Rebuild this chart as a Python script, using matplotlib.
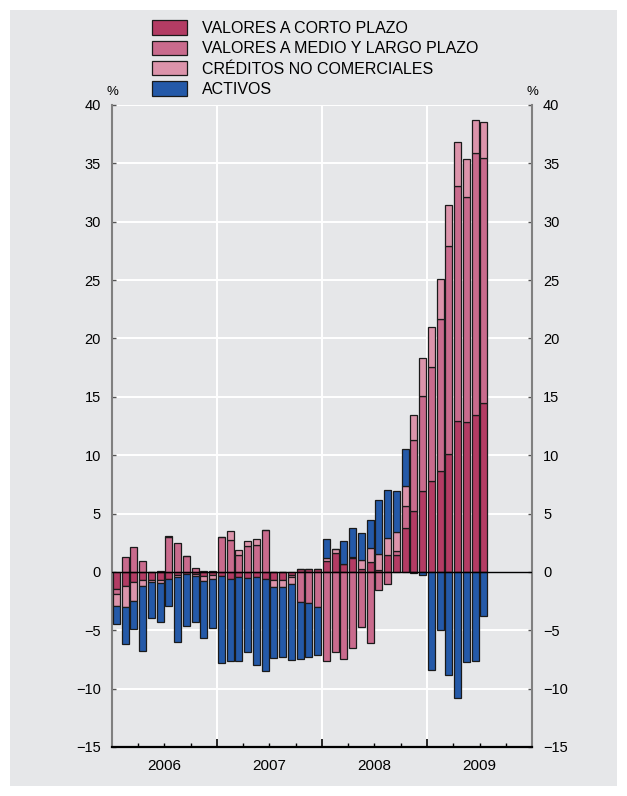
import numpy as np
import matplotlib.pyplot as plt

plt.rcParams['font.family'] = ['Liberation Sans', 'DejaVu Sans']

# Monthly contributions (pp), Jan 2006 - Jul 2009
valores_cp = [-1.48, -1.25, -0.88, -0.68, -0.68, -0.68, -0.60, -0.28, -0.20, -0.20,
              -0.34, -0.26, -0.31, -0.60, -0.48, -0.54, -0.48, -0.63, -0.68, -0.68,
              -0.30, 0.23, 0.26, 0.23, 0.94, 1.60, 0.65, 1.17, 0.23, 0.83,
              0.17, 1.45, 1.45, 3.73, 5.20, 6.92, 7.75, 8.63, 10.14, 12.93,
              12.88, 13.42, 14.50]
valores_mlp = [-0.43, 1.31, 2.10, 0.97, 0.00, 0.10, 2.96, 2.50, 1.40, 0.37,
               0.10, 0.10, 3.00, 2.73, 1.42, 2.22, 2.30, 3.59, 0.00, 0.00,
               -0.15, -2.56, -2.68, -3.00, -7.60, -6.87, -7.46, -6.55, -4.76, -6.10,
               -1.54, -1.08, 0.34, 1.91, 6.10, 8.12, 9.80, 13.05, 17.75, 20.15,
               19.26, 22.45, 20.94]
creditos = [-1.03, -1.77, -1.60, -0.57, -0.20, -0.28, 0.15, -0.17, 0.00, -0.17,
            -0.40, -0.34, 0.00, 0.74, 0.46, 0.46, 0.48, 0.00, -0.63, -0.65,
            -0.60, 0.00, 0.00, 0.00, 0.23, 0.34, 0.00, 0.14, 0.80, 1.25,
            1.34, 1.42, 1.65, 1.74, 2.10, 3.31, 3.42, 3.42, 3.53, 3.76,
            3.22, 2.85, 3.14]
activos = [-1.54, -3.13, -2.42, -5.50, -3.08, -3.30, -2.30, -5.56, -4.40, -3.93,
           -4.93, -4.20, -7.46, -7.04, -7.15, -6.30, -7.50, -7.86, -6.07, -6.00,
           -6.50, -4.90, -4.60, -4.13, 1.65, 0.00, 2.02, 2.48, 2.28, 2.36,
           4.62, 4.13, 3.48, 3.19, -0.10, -0.28, -8.43, -4.96, -8.80, -10.80,
           -7.72, -7.60, -3.76]

labels = ['VALORES A CORTO PLAZO', 'VALORES A MEDIO Y LARGO PLAZO',
          'CRÉDITOS NO COMERCIALES', 'ACTIVOS']
colors = ['#b33c64', '#c96b8d', '#dc94ab', '#2459a8']
years = ['2006', '2007', '2008', '2009']

bg = '#e6e7e9'
fig = plt.figure(figsize=(6.27, 7.96), dpi=100, facecolor='white')
fig.patches.append(plt.Rectangle((0.016, 0.012), 0.968, 0.976, transform=fig.transFigure,
                                 facecolor=bg, edgecolor='none', zorder=-10))
ax = fig.add_axes([0.1786, 0.0616, 0.6699, 0.8065])
ax.set_facecolor(bg)

x = np.arange(len(valores_cp))
pos_bottom = np.zeros(len(x))
neg_bottom = np.zeros(len(x))
for vals, col, lab in zip([valores_cp, valores_mlp, creditos, activos], colors, labels):
    v = np.array(vals)
    bottom = np.where(v >= 0, pos_bottom, neg_bottom)
    ax.bar(x, v, width=0.8, bottom=bottom, color=col, edgecolor='#1a1a1a',
           linewidth=0.9, label=lab, zorder=3)
    pos_bottom += np.where(v >= 0, v, 0)
    neg_bottom += np.where(v < 0, v, 0)

ax.axhline(0, color='black', linewidth=1.0, zorder=4)

ax.set_xlim(-0.5, 47.5)
ax.set_ylim(-15, 40)
ax.set_yticks(np.arange(-15, 41, 5))
for yv in np.arange(-10, 41, 5):
    if yv != 0:
        ax.axhline(yv, color='white', linewidth=1.4, zorder=1)
for xv in [11.5, 23.5, 35.5]:
    ax.axvline(xv, color='white', linewidth=1.4, zorder=1)

ax.tick_params(axis='y', which='both', direction='in', length=3, width=1,
               color='#555555', labelsize=10.5, left=True, right=True,
               labelleft=True, labelright=True, pad=8)
ax.set_xticks([-0.5, 11.5, 23.5, 35.5, 47.5])
ax.set_xticklabels([])
ax.set_xticks(np.arange(-0.5, 47.6, 3), minor=True)
ax.tick_params(axis='x', which='major', direction='in', length=6, width=1.2, color='black')
ax.tick_params(axis='x', which='minor', direction='in', length=3, width=1, color='black')
for k, yr in enumerate(years):
    ax.text(5.5 + 12 * k, -16.0, yr, ha='center', va='top', fontsize=11)

for side in ['left', 'right']:
    ax.spines[side].set_color('#808080')
    ax.spines[side].set_linewidth(1.5)
ax.spines['top'].set_visible(False)
ax.spines['bottom'].set_color('black')
ax.spines['bottom'].set_linewidth(1.6)

ax.text(-0.5, 40.6, '%', ha='center', va='bottom', fontsize=9.5)
ax.text(47.5, 40.6, '%', ha='center', va='bottom', fontsize=9.5)

ax.legend(loc='upper left', bbox_to_anchor=(0.08, 1.142), frameon=False,
          fontsize=11.5, handlelength=2.2, handleheight=1.0, labelspacing=0.3,
          handletextpad=0.95, borderaxespad=0)

fig.savefig('out.png', dpi=100, facecolor='white')
